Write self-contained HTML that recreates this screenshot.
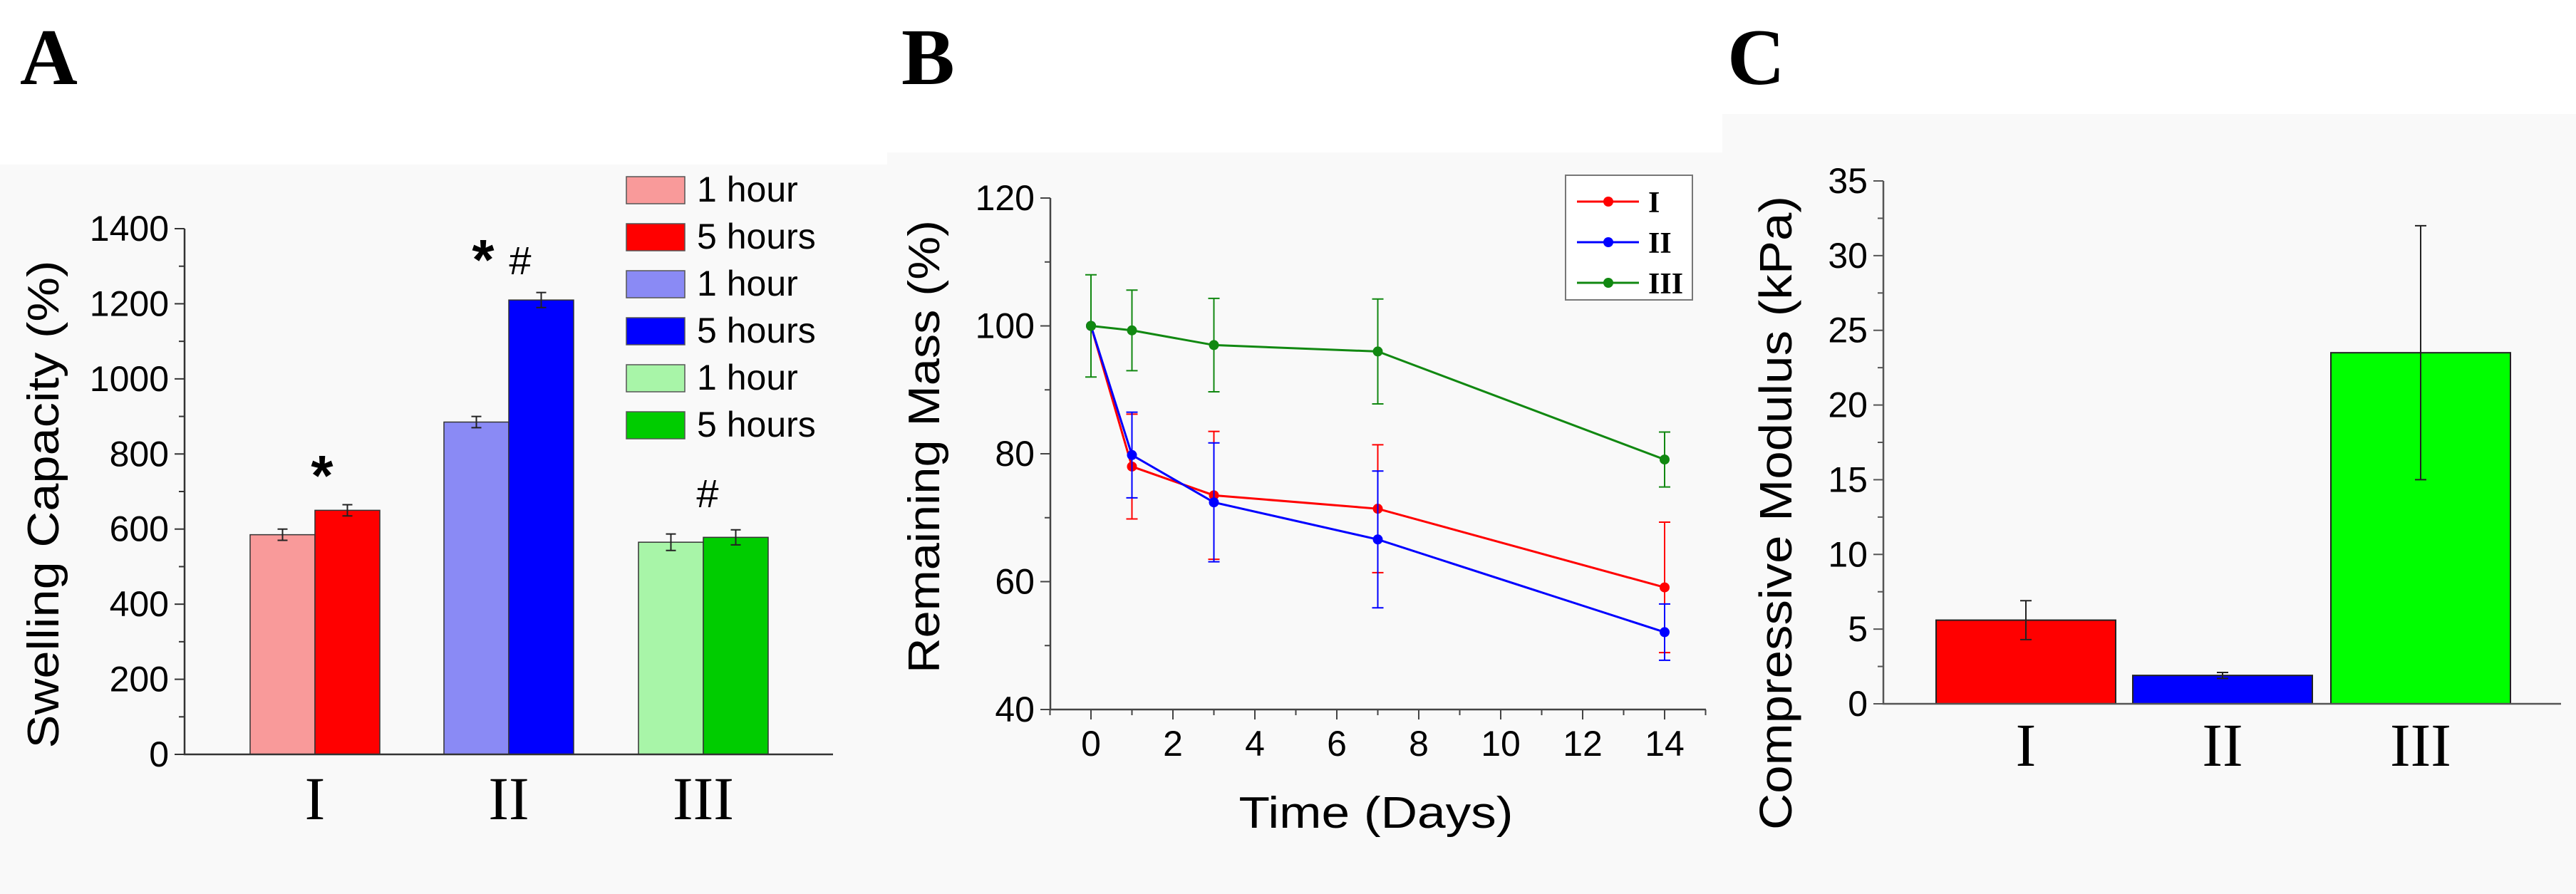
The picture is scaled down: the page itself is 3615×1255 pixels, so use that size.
<!DOCTYPE html>
<html><head><meta charset="utf-8"><style>
html,body{margin:0;padding:0;background:#fff;}
svg{display:block;font-family:"Liberation Sans",sans-serif;}
</style></head><body>
<svg id="fig" width="3615" height="1255" viewBox="0 0 3615 1255" xmlns="http://www.w3.org/2000/svg">
<rect x="0" y="231" width="1245" height="1024" fill="#f9f9f9"/>
<rect x="1245" y="214" width="1172" height="1041" fill="#f9f9f9"/>
<rect x="2417" y="160" width="1198" height="1095" fill="#f9f9f9"/>
<text x="28" y="118" font-family="Liberation Serif,serif" font-weight="bold" font-size="112">A</text>
<text x="1265" y="118" font-family="Liberation Serif,serif" font-weight="bold" font-size="112">B</text>
<text x="2424" y="118" font-family="Liberation Serif,serif" font-weight="bold" font-size="112">C</text>
<g id="ga"></g><g id="gb"></g><g id="gc"></g>
</svg>
<script>
// Panel A data
const aCategories = ["I","II","III"];
const aSeriesLabels = ["1 hour","5 hours","1 hour","5 hours","1 hour","5 hours"];
const aOneHour = [585, 885, 565];
const aFiveHours = [650, 1210, 578];
const aOneHourErr = [15, 15, 22];
const aFiveHoursErr = [15, 20, 20];
const aYTicks = [0,200,400,600,800,1000,1200,1400];
// Panel B data
const bDays = [0, 1, 3, 7, 14];
const bSeriesI = [100, 78, 73.5, 71.4, 59.1];
const bErrI = [0, 8.2, 10, 10, 10.2];
const bSeriesII = [100, 79.8, 72.4, 66.6, 52.1];
const bErrII = [0, 6.7, 9.3, 10.7, 4.4];
const bSeriesIII = [100, 99.3, 97, 96, 79.1];
const bErrIII = [8, 6.3, 7.3, 8.2, 4.3];
const bXTicks = [0,2,4,6,8,10,12,14];
const bYTicks = [40,60,80,100,120];
// Panel C data
const cCategories = ["I","II","III"];
const cValues = [5.6, 1.9, 23.5];
const cErrs = [1.3, 0.2, 8.5];
const cYTicks = [0,5,10,15,20,25,30,35];

const NS="http://www.w3.org/2000/svg";
function mk(parent,tag,attrs,text){const e=document.createElementNS(NS,tag);for(const k in attrs)e.setAttribute(k,attrs[k]);if(text!==undefined)e.textContent=text;parent.appendChild(e);return e;}

// ---------- Panel A ----------
(function(){
 const g=document.getElementById('ga');
 const ax=259, y0=1059, yTop=321, xEnd=1169;
 const ys=v=>y0-(v-0)/(1400-0)*(y0-yTop);
 const groupLeft=[351,623,896], bw=91;
 const colors=[["#f99a9a","#ff0000"],["#8a8af5","#0000ff"],["#a8f5a8","#00cc00"]];
 for(let i=0;i<3;i++){
  const vals=[aOneHour[i],aFiveHours[i]], errs=[aOneHourErr[i],aFiveHoursErr[i]];
  for(let j=0;j<2;j++){
   const x=groupLeft[i]+j*bw, y=ys(vals[j]);
   const r=mk(g,'rect',{x:x,y:y,width:bw,height:y0-y,fill:colors[i][j],stroke:"#333","stroke-width":1.5});
   
   
   const cx=x+bw/2, e1=ys(vals[j]+errs[j]), e2=ys(vals[j]-errs[j]);
   const eb=mk(g,'path',{d:`M${cx},${e1}V${e2}M${cx-7},${e1}H${cx+7}M${cx-7},${e2}H${cx+7}`,stroke:"#222","stroke-width":2,fill:"none"});
   
   
  }
  const lbl=mk(g,'text',{x:groupLeft[i]+bw,y:1150,"text-anchor":"middle","font-family":"Liberation Serif,serif","font-size":86},aCategories[i]);
  
  
 }
 const axl=mk(g,'path',{d:`M${ax},${yTop}V${y0}H${xEnd}`,stroke:"#333","stroke-width":2.5,fill:"none"});
 
 
 aYTicks.forEach(t=>{const y=ys(t);
  mk(g,'path',{d:`M${ax-14},${y}H${ax}`,stroke:"#333","stroke-width":2});
  if(t<1400)mk(g,'path',{d:`M${ax-8},${ys(t+100)}H${ax}`,stroke:"#333","stroke-width":2});
  const tl=mk(g,'text',{x:ax-22,y:y+17,"text-anchor":"end","font-size":50},String(t));
  
  
 });
 const yt=mk(g,'text',{transform:"translate(82,708) rotate(-90)","text-anchor":"middle","font-size":62,textLength:685,lengthAdjust:"spacingAndGlyphs"},"Swelling Capacity (%)");
 
 
 // annotations
 [[452,695,"*"],[678,392,"*"],[730,385,"#"],[993,712,"#"]].forEach(a=>{
  const t=mk(g,'text',{x:a[0],y:a[1],"text-anchor":"middle","font-size":a[2]==="#"?56:80,"font-weight":a[2]==="#"?"normal":"bold"},a[2]);
  
  
 });
 // legend
 const legC=["#f99a9a","#ff0000","#8a8af5","#0000ff","#a8f5a8","#00cc00"];
 aSeriesLabels.forEach((s,i)=>{const y=248+i*66;
  const sw=mk(g,'rect',{x:879,y:y,width:82,height:38,fill:legC[i],stroke:"#555","stroke-width":1.5});
  
  
  const lt=mk(g,'text',{x:978,y:y+35,"font-size":50},s);
  
  
 });
})();

// ---------- Panel B ----------
(function(){
 const g=document.getElementById('gb');
 const ax=1474, y0=996, yTop=278, xEnd=2394;
 const xs=d=>1531+(d-0)/(14-0)*(2336-1531);
 const ys=v=>y0-(v-40)/(120-40)*(y0-yTop);
 const axl=mk(g,'path',{d:`M${ax},${yTop}V${y0}H${xEnd}`,stroke:"#444","stroke-width":2.5,fill:"none"});
 
 
 bYTicks.forEach(t=>{const y=ys(t);
  mk(g,'path',{d:`M${ax-14},${y}H${ax}`,stroke:"#444","stroke-width":2});
  if(t<120)mk(g,'path',{d:`M${ax-8},${ys(t+10)}H${ax}`,stroke:"#444","stroke-width":2});
  const tl=mk(g,'text',{x:ax-22,y:y+17,"text-anchor":"end","font-size":50},String(t));
  
  
 });
 bXTicks.forEach(t=>{const x=xs(t);
  mk(g,'path',{d:`M${x},${y0}V${y0+14}M${xs(t+1)},${y0}V${y0+8}`,stroke:"#444","stroke-width":2});
  if(t===0)mk(g,'path',{d:`M${xs(-1)},${y0}V${y0+8}`,stroke:"#444","stroke-width":2});
  const tl=mk(g,'text',{x:x,y:y0+65,"text-anchor":"middle","font-size":50},String(t));
  
  
 });
 const series=[["I",bSeriesI,bErrI,"#ff0000"],["II",bSeriesII,bErrII,"#0000ff"],["III",bSeriesIII,bErrIII,"#118811"]];
 series.forEach(s=>{
  const [name,vals,errs,col]=s;
  vals.forEach((v,i)=>{ if(errs[i]>0){const x=xs(bDays[i]),e1=ys(v+errs[i]),e2=ys(v-errs[i]);
   const eb=mk(g,'path',{d:`M${x},${e1}V${e2}M${x-8},${e1}H${x+8}M${x-8},${e2}H${x+8}`,stroke:col,"stroke-width":2,fill:"none"});
   
   }});
  const pts=vals.map((v,i)=>xs(bDays[i])+","+ys(v)).join(" ");
  const pl=mk(g,'polyline',{points:pts,fill:"none",stroke:col,"stroke-width":3});
  
  
  vals.forEach((v,i)=>{const c=mk(g,'circle',{cx:xs(bDays[i]),cy:ys(v),r:7,fill:col});
   
   });
 });
 const lb=mk(g,'rect',{x:2197,y:246,width:178,height:175,fill:"#fff",stroke:"#777","stroke-width":2});
 
 
 series.forEach((s,i)=>{const y=283+i*57;
  mk(g,'path',{d:`M2213,${y}H2300`,stroke:s[3],"stroke-width":3});
  mk(g,'circle',{cx:2257,cy:y,r:7,fill:s[3]});
  const t=mk(g,'text',{x:2313,y:y+15,"font-family":"Liberation Serif,serif","font-weight":"bold","font-size":42},s[0]);
  
  
 });
 const yt=mk(g,'text',{transform:"translate(1318,627) rotate(-90)","text-anchor":"middle","font-size":62,textLength:636,lengthAdjust:"spacingAndGlyphs"},"Remaining Mass (%)");
 
 
 const xt=mk(g,'text',{x:1931,y:1162,"text-anchor":"middle","font-size":62,textLength:385,lengthAdjust:"spacingAndGlyphs"},"Time (Days)");
 
 
})();

// ---------- Panel C ----------
(function(){
 const g=document.getElementById('gc');
 const ax=2643, y0=988, yTop=254, xEnd=3594;
 const ys=v=>y0-(v-0)/(35-0)*(y0-yTop);
 const lefts=[2717,2993,3271], bw=252, cols=["#ff0000","#0000ff","#00ff00"];
 cValues.forEach((v,i)=>{const y=ys(v);
  const r=mk(g,'rect',{x:lefts[i],y:y,width:bw,height:y0-y,fill:cols[i],stroke:"#222","stroke-width":2});
  
  
  const cx=lefts[i]+bw/2,e1=ys(v+cErrs[i]),e2=ys(v-cErrs[i]);
  const eb=mk(g,'path',{d:`M${cx},${e1}V${e2}M${cx-8},${e1}H${cx+8}M${cx-8},${e2}H${cx+8}`,stroke:"#222","stroke-width":2,fill:"none"});
  
  
  const lbl=mk(g,'text',{x:cx,y:1075,"text-anchor":"middle","font-family":"Liberation Serif,serif","font-size":86},cCategories[i]);
  
  
 });
 const axl=mk(g,'path',{d:`M${ax},${yTop}V${y0}H${xEnd}`,stroke:"#555","stroke-width":2.5,fill:"none"});
 
 
 cYTicks.forEach(t=>{const y=ys(t);
  mk(g,'path',{d:`M${ax-14},${y}H${ax}`,stroke:"#555","stroke-width":2});
  if(t<35)mk(g,'path',{d:`M${ax-8},${ys(t+2.5)}H${ax}`,stroke:"#555","stroke-width":2});
  const tl=mk(g,'text',{x:ax-22,y:y+17,"text-anchor":"end","font-size":50},String(t));
  
  
 });
 const yt=mk(g,'text',{transform:"translate(2514,720) rotate(-90)","text-anchor":"middle","font-size":64,textLength:890,lengthAdjust:"spacingAndGlyphs"},"Compressive Modulus (kPa)");
 
 
})();
</script>
</body></html>
